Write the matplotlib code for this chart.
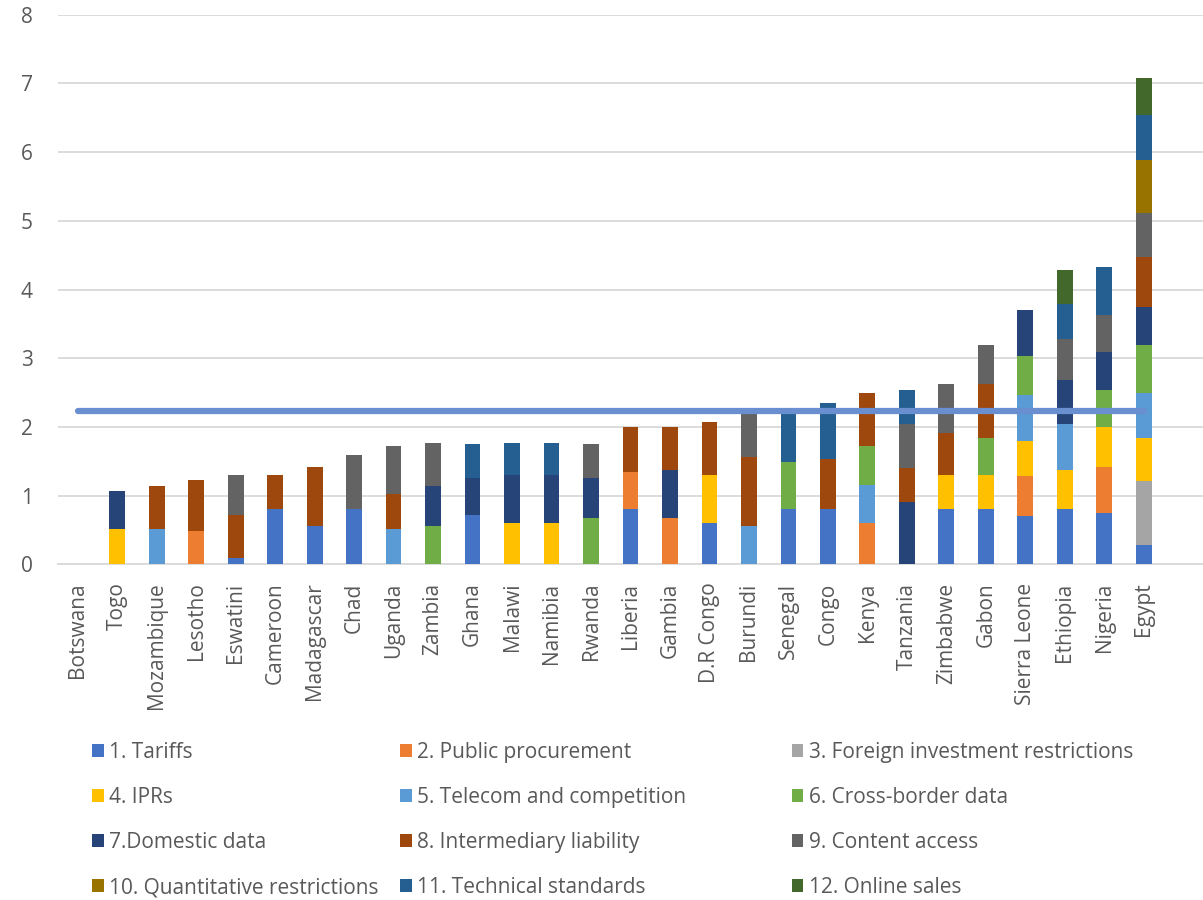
import numpy as np
import matplotlib
matplotlib.use("Agg")
import matplotlib.pyplot as plt

plt.rcParams['font.family'] = ['Open Sans', 'DejaVu Sans']

countries = ["Botswana", "Togo", "Mozambique", "Lesotho", "Eswatini", "Cameroon",
             "Madagascar", "Chad", "Uganda", "Zambia", "Ghana", "Malawi", "Namibia",
             "Rwanda", "Liberia", "Gambia", "D.R Congo", "Burundi", "Senegal", "Congo",
             "Kenya", "Tanzania", "Zimbabwe", "Gabon", "Sierra Leone", "Ethiopia",
             "Nigeria", "Egypt"]

series_names = ["1. Tariffs", "2. Public procurement", "3. Foreign investment restrictions",
                "4. IPRs", "5. Telecom and competition", "6. Cross-border data",
                "7.Domestic data", "8. Intermediary liability", "9. Content access",
                "10. Quantitative restrictions", "11. Technical standards", "12. Online sales"]

tariffs = [0, 0, 0, 0, 0.1, 0.8, 0.565, 0.8, 0, 0, 0.72, 0, 0, 0, 0.8, 0, 0.6, 0, 0.8, 0.8,
           0, 0, 0.8, 0.8, 0.71, 0.8, 0.755, 0.28]
public_procurement = [0, 0, 0, 0.49, 0, 0, 0, 0, 0, 0, 0, 0, 0, 0, 0.54, 0.68, 0, 0, 0, 0,
                      0.6, 0, 0, 0, 0.58, 0, 0.66, 0]
foreign_investment = [0] * 27 + [0.94]
iprs = [0, 0.52, 0, 0, 0, 0, 0, 0, 0, 0, 0, 0.6, 0.6, 0, 0, 0, 0.7, 0, 0, 0,
        0, 0, 0.5, 0.5, 0.51, 0.575, 0.585, 0.625]
telecom = [0, 0, 0.52, 0, 0, 0, 0, 0, 0.52, 0, 0, 0, 0, 0, 0, 0, 0, 0.565, 0, 0,
           0.55, 0, 0, 0, 0.66, 0.665, 0, 0.655]
cross_border = [0, 0, 0, 0, 0, 0, 0, 0, 0, 0.565, 0, 0, 0, 0.68, 0, 0, 0, 0, 0.695, 0,
                0.58, 0, 0, 0.545, 0.58, 0, 0.54, 0.7]
domestic_data = [0, 0.545, 0, 0, 0, 0, 0, 0, 0, 0.575, 0.54, 0.7, 0.7, 0.58, 0, 0.7, 0, 0, 0, 0,
                 0, 0.91, 0, 0, 0.66, 0.65, 0.55, 0.54]
intermediary = [0, 0, 0.62, 0.74, 0.615, 0.5, 0.85, 0, 0.51, 0, 0, 0, 0, 0, 0.66, 0.62, 0.775, 1.0, 0, 0.73,
                0.77, 0.5, 0.62, 0.775, 0, 0, 0, 0.74]
content_access = [0, 0, 0, 0, 0.58, 0, 0, 0.8, 0.69, 0.63, 0, 0, 0, 0.5, 0, 0, 0, 0.63, 0, 0,
                  0, 0.63, 0.7, 0.58, 0, 0.585, 0.54, 0.63]
quantitative = [0] * 27 + [0.77]
technical = [0, 0, 0, 0, 0, 0, 0, 0, 0, 0, 0.5, 0.47, 0.47, 0, 0, 0, 0, 0, 0.7, 0.815,
             0, 0.495, 0, 0, 0, 0.51, 0.7, 0.66]
online_sales = [0] * 25 + [0.495, 0, 0.545]

series = [tariffs, public_procurement, foreign_investment, iprs, telecom, cross_border,
          domestic_data, intermediary, content_access, quantitative, technical, online_sales]
colors = ["#4472C4", "#ED7D31", "#A5A5A5", "#FFC000", "#5B9BD5", "#70AD47",
          "#264478", "#9E480E", "#636363", "#997300", "#255E91", "#43682B"]

fig = plt.figure(figsize=(12.03, 9.0), dpi=100)
ax = fig.add_axes([0.0482, 0.3728, 0.9518, 0.6109])

x = np.arange(len(countries))
bottom = np.zeros(len(countries))
handles = []
for name, vals, col in zip(series_names, series, colors):
    vals = np.array(vals, dtype=float)
    h = ax.bar(x, vals, 0.4, bottom=bottom, color=col, label=name, linewidth=0, zorder=3)
    handles.append(h)
    bottom += vals

# average of the totals across countries
avg = bottom.mean()
ax.plot(x, [avg] * len(x), color="#6A8FD0", linewidth=4.5, solid_capstyle="round", zorder=4)

ax.set_xlim(-0.5, 28.5)
ax.set_ylim(0, 8)
ax.set_yticks(range(0, 9))
ax.grid(axis="y", color="#D9D9D9", linewidth=1.3, zorder=0)
for s in ["top", "right", "left"]:
    ax.spines[s].set_visible(False)
ax.spines["bottom"].set_color("#D9D9D9")
ax.spines["bottom"].set_linewidth(1.3)

ax.set_xticks(x)
ax.set_xticklabels(countries, rotation=90, va="top", ha="center")
ax.tick_params(axis="x", length=0, pad=13, labelsize=15, labelcolor="#595959")
ax.tick_params(axis="y", length=0, pad=18, labelsize=15, labelcolor="#595959")

# legend: three columns, each read across the rows (1,2,3 / 4,5,6 / ...)
col_left = [0.0765, 0.3325, 0.658]
for c in range(3):
    idx = [c, c + 3, c + 6, c + 9]
    fig.legend([handles[i] for i in idx], [series_names[i] for i in idx],
               loc="upper left", bbox_to_anchor=(col_left[c], 0.176), frameon=False,
               fontsize=15, labelcolor="#595959", handlelength=0.57, handleheight=0.57,
               handletextpad=0.25, labelspacing=1.16, borderpad=0, borderaxespad=0)

fig.savefig("out.png", dpi=100)
